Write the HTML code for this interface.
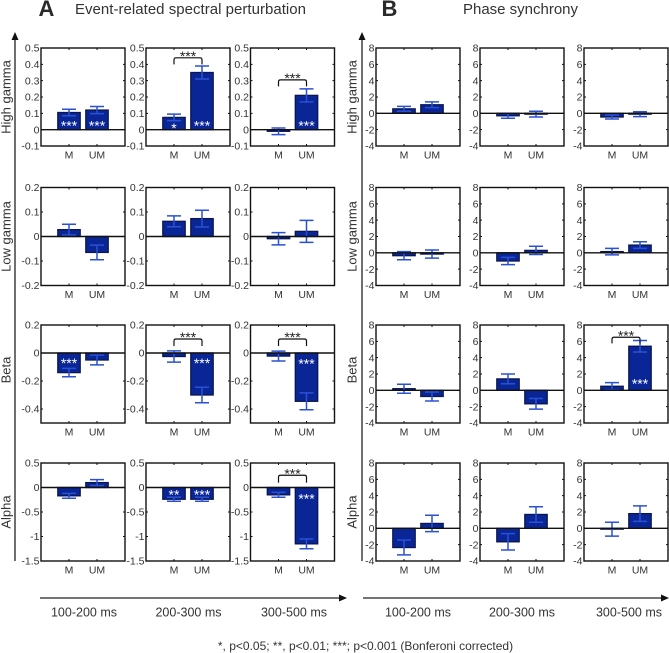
<!DOCTYPE html>
<html lang="en">
<head>
<meta charset="utf-8">
<title>Event-related spectral perturbation and phase synchrony</title>
<style>
html,body{margin:0;padding:0;background:#fff;width:669px;height:653px;overflow:hidden}
svg{display:block;font-family:"Liberation Sans",Arial,sans-serif;filter:blur(0.3px)}
</style>
</head>
<body>
<svg id="chart" xmlns="http://www.w3.org/2000/svg" width="669" height="653" viewBox="0 0 669 653">
  <rect width="669" height="653" fill="#fff"/>
  <text x="38.500" y="16" font-size="22" font-weight="bold" fill="#2a2a2a">A</text>
  <text x="75" y="14" font-size="15" fill="#333" textLength="231">Event-related spectral perturbation</text>
  <text x="381.500" y="16" font-size="22" font-weight="bold" fill="#2a2a2a">B</text>
  <text x="463" y="14" font-size="15" fill="#333" textLength="115">Phase synchrony</text>
  <g>
    <line x1="15" y1="38" x2="15" y2="561" stroke="#222" stroke-width="1.3"/>
    <polygon points="15,32 11.5,40 18.5,40" fill="#111"/>
  </g>
  <g>
    <line x1="362" y1="38" x2="362" y2="561" stroke="#222" stroke-width="1.3"/>
    <polygon points="362,32 358.500,40 365.500,40" fill="#111"/>
  </g>
  <g>
    <line x1="40" y1="598" x2="342" y2="598" stroke="#222" stroke-width="1.3"/>
    <polygon points="347,598 339,594.500 339,601.500" fill="#111"/>
  </g>
  <g>
    <line x1="363" y1="598" x2="664" y2="598" stroke="#222" stroke-width="1.3"/>
    <polygon points="669,598 661,594.500 661,601.500" fill="#111"/>
  </g>
  <text x="365.500" y="650" text-anchor="middle" font-size="12" fill="#333">*, p&lt;0.05; **, p&lt;0.01; ***; p&lt;0.001 (Bonferoni corrected)</text>
  <g id="plots"></g>
</svg>
<script>
// Data: each row lists [M, UM] per time window
const bandNames = ["High gamma", "Low gamma", "Beta", "Alpha"];
const timeWindows = ["100-200 ms", "200-300 ms", "300-500 ms"];
const conditions = ["M", "UM"];

const erspHighGammaValues = [[0.105, 0.12], [0.075, 0.35], [-0.01, 0.21]];
const erspHighGammaErrors = [[0.02, 0.022], [0.02, 0.04], [0.02, 0.04]];
const erspLowGammaValues = [[0.028, -0.065], [0.062, 0.073], [-0.009, 0.021]];
const erspLowGammaErrors = [[0.022, 0.03], [0.022, 0.034], [0.025, 0.045]];
const erspBetaValues = [[-0.14, -0.05], [-0.025, -0.30], [-0.022, -0.345]];
const erspBetaErrors = [[0.03, 0.035], [0.04, 0.055], [0.035, 0.06]];
const erspAlphaValues = [[-0.17, 0.10], [-0.24, -0.24], [-0.15, -1.15]];
const erspAlphaErrors = [[0.05, 0.06], [0.04, 0.04], [0.05, 0.10]];

const phaseHighGammaValues = [[0.55, 1.05], [-0.3, -0.1], [-0.45, -0.1]];
const phaseHighGammaErrors = [[0.3, 0.35], [0.3, 0.35], [0.25, 0.3]];
const phaseLowGammaValues = [[-0.35, -0.15], [-1.0, 0.3], [0.15, 0.95]];
const phaseLowGammaErrors = [[0.5, 0.5], [0.45, 0.5], [0.4, 0.4]];
const phaseBetaValues = [[0.2, -0.75], [1.4, -1.65], [0.5, 5.4]];
const phaseBetaErrors = [[0.55, 0.55], [0.6, 0.65], [0.45, 0.7]];
const phaseAlphaValues = [[-2.35, 0.6], [-1.65, 1.7], [-0.1, 1.8]];
const phaseAlphaErrors = [[0.9, 1.0], [1.0, 0.95], [0.85, 0.95]];

// Y axis tick labels and limits per band
const erspHighGammaTicks = ["-0.1", "0", "0.1", "0.2", "0.3", "0.4", "0.5"];
const erspLowGammaTicks = ["-0.2", "-0.1", "0", "0.1", "0.2"];
const erspBetaTicks = ["-0.4", "-0.2", "0", "0.2"];
const erspAlphaTicks = ["-1.5", "-1", "-0.5", "0", "0.5"];
const phaseTicks = ["-4", "-2", "0", "2", "4", "6", "8"];
const erspLimits = [[-0.1, 0.5], [-0.2, 0.2], [-0.5, 0.2], [-1.5, 0.5]];
const phaseLimits = [[-4, 8], [-4, 8], [-4, 8], [-4, 8]];

// Significance marks: [band, window, condition, label, value at star centre]
const erspStars = [
  [0, 0, 0, "***", 0.045], [0, 0, 1, "***", 0.045],
  [0, 1, 0, "*", 0.03], [0, 1, 1, "***", 0.045],
  [0, 2, 1, "***", 0.045],
  [2, 0, 0, "***", -0.05], [2, 1, 1, "***", -0.05], [2, 2, 1, "***", -0.055],
  [3, 1, 0, "**", -0.08], [3, 1, 1, "***", -0.08], [3, 2, 1, "***", -0.16]
];
const phaseStars = [[2, 2, 1, "***", 1.2]];

// Brackets: [band, window, value at bracket top, value at bracket feet]
const erspBrackets = [[0, 1, 0.44, 0.40], [0, 2, 0.305, 0.265], [2, 1, 0.10, 0.05], [2, 2, 0.10, 0.05], [3, 2, 0.25, 0.10]];
const phaseBrackets = [[2, 2, 6.5, 5.75]];

// Layout
const rowTops = [48, 187.5, 325, 463];
const rowLabelCenters = [97, 236.5, 370, 512];
const plotHeight = 98;
const plotWidth = 84;
const erspColumns = [41, 146, 250.5];
const phaseColumns = [376, 480, 584];

const NS = "http://www.w3.org/2000/svg";
const root = document.getElementById("plots");

function mk(parent, tag, attrs, text) {
  const e = document.createElementNS(NS, tag);
  for (const k in attrs) e.setAttribute(k, attrs[k]);
  if (text !== undefined) e.textContent = text;
  parent.appendChild(e);
  return e;
}

function drawFigure(prefix, columns, values, errors, ticks, limits, stars, brackets, bandLabelX, timeCenters) {
  bandNames.forEach(function (band, r) {
    const slug = band.toLowerCase().replace(" ", "-");
    const label = mk(root, "text", {
      x: bandLabelX, y: rowLabelCenters[r],
      "font-size": 13, fill: "#333", "text-anchor": "middle",
      transform: "rotate(-90 " + bandLabelX + " " + rowLabelCenters[r] + ")",
      "dominant-baseline": "central"
    }, band);
    
    

    columns.forEach(function (left, c) {
      const top = rowTops[r];
      const lo = limits[r][0], hi = limits[r][1];
      const yOf = function (v) { return top + (hi - v) / (hi - lo) * plotHeight; };
      const xOf = function (u) { return left + u / 3 * plotWidth; };

      const g = mk(root, "g", {});
      
      

      // bars
      values[r][c].forEach(function (v, b) {
        const cx = xOf(b + 1), hw = 0.4 * plotWidth / 3;
        const y0 = yOf(0), y1 = yOf(v);
        const bar = mk(g, "rect", {
          x: cx - hw, y: Math.min(y0, y1), width: 2 * hw, height: Math.abs(y1 - y0),
          fill: "#0a2696", stroke: "#0a1650", "stroke-width": 1.3
        });
        
        

        const e = errors[r][c][b], yu = yOf(v + e), yd = yOf(v - e);
        const whisk = mk(g, "path", {
          d: "M" + cx + " " + yu + "V" + yd + "M" + (cx - 7) + " " + yu + "H" + (cx + 7) + "M" + (cx - 7) + " " + yd + "H" + (cx + 7),
          fill: "none", stroke: "#2a50d4", "stroke-width": 1.5
        });
        
        

        const cond = mk(g, "text", {
          x: cx, y: top + plotHeight + 12.500, "font-size": 10.500, fill: "#333", "text-anchor": "middle"
        }, conditions[b]);
        
        

        // top / bottom ticks
        const tk = mk(g, "path", {
          d: "M" + cx + " " + top + "v2M" + cx + " " + (top + plotHeight) + "v-2",
          stroke: "#111", "stroke-width": 1
        });
        
        
      });

      // zero line
      const zero = mk(g, "line", {
        x1: left, x2: left + plotWidth, y1: yOf(0), y2: yOf(0), stroke: "#111", "stroke-width": 1.4
      });
      
      

      // frame
      const frame = mk(g, "rect", {
        x: left, y: top, width: plotWidth, height: plotHeight, fill: "none", stroke: "#111", "stroke-width": 1.4
      });
      
      

      // y ticks
      ticks[r].forEach(function (t) {
        const y = yOf(parseFloat(t));
        const lab = mk(g, "text", {
          x: left - 1.500, y: y + 3.600, "font-size": 10.500, fill: "#333", "text-anchor": "end"
        }, t);
        
        
        const tk = mk(g, "path", {
          d: "M" + left + " " + y + "h2M" + (left + plotWidth) + " " + y + "h-2",
          stroke: "#111", "stroke-width": 1
        });
        
        
      });

      // stars inside the bars
      stars.filter(function (s) { return s[0] === r && s[1] === c; }).forEach(function (s) {
        const st = mk(g, "text", {
          x: xOf(s[2] + 1), y: yOf(s[4]) + 8, "font-size": 14, fill: "#fff", "text-anchor": "middle"
        }, s[3]);
        
        
      });

      // brackets
      brackets.filter(function (s) { return s[0] === r && s[1] === c; }).forEach(function (s) {
        const xa = xOf(1), xb = xOf(2), yt = yOf(s[2]), yf = yOf(s[3]);
        const br = mk(g, "path", {
          d: "M" + xa + " " + yf + "V" + (yt + 2) + "Q" + xa + " " + yt + " " + (xa + 2) + " " + yt +
             "H" + (xb - 2) + "Q" + xb + " " + yt + " " + xb + " " + (yt + 2) + "V" + yf,
          fill: "none", stroke: "#111", "stroke-width": 1.2
        });
        
        
        const bs = mk(g, "text", {
          x: (xa + xb) / 2, y: yt + 3, "font-size": 14, fill: "#222", "text-anchor": "middle"
        }, "***");
        
        
      });
    });
  });

  timeWindows.forEach(function (w, i) {
    const t = mk(root, "text", {
      x: timeCenters[i], y: 616.500, "font-size": 12.500, fill: "#333", "text-anchor": "middle"
    }, w);
    
    
  });
}

drawFigure("ersp", erspColumns,
  [erspHighGammaValues, erspLowGammaValues, erspBetaValues, erspAlphaValues],
  [erspHighGammaErrors, erspLowGammaErrors, erspBetaErrors, erspAlphaErrors],
  [erspHighGammaTicks, erspLowGammaTicks, erspBetaTicks, erspAlphaTicks],
  erspLimits, erspStars, erspBrackets, 6, [84, 188.5, 294]);

drawFigure("phase", phaseColumns,
  [phaseHighGammaValues, phaseLowGammaValues, phaseBetaValues, phaseAlphaValues],
  [phaseHighGammaErrors, phaseLowGammaErrors, phaseBetaErrors, phaseAlphaErrors],
  [phaseTicks, phaseTicks, phaseTicks, phaseTicks],
  phaseLimits, phaseStars, phaseBrackets, 352, [418, 522, 629]);
</script>
</body>
</html>
